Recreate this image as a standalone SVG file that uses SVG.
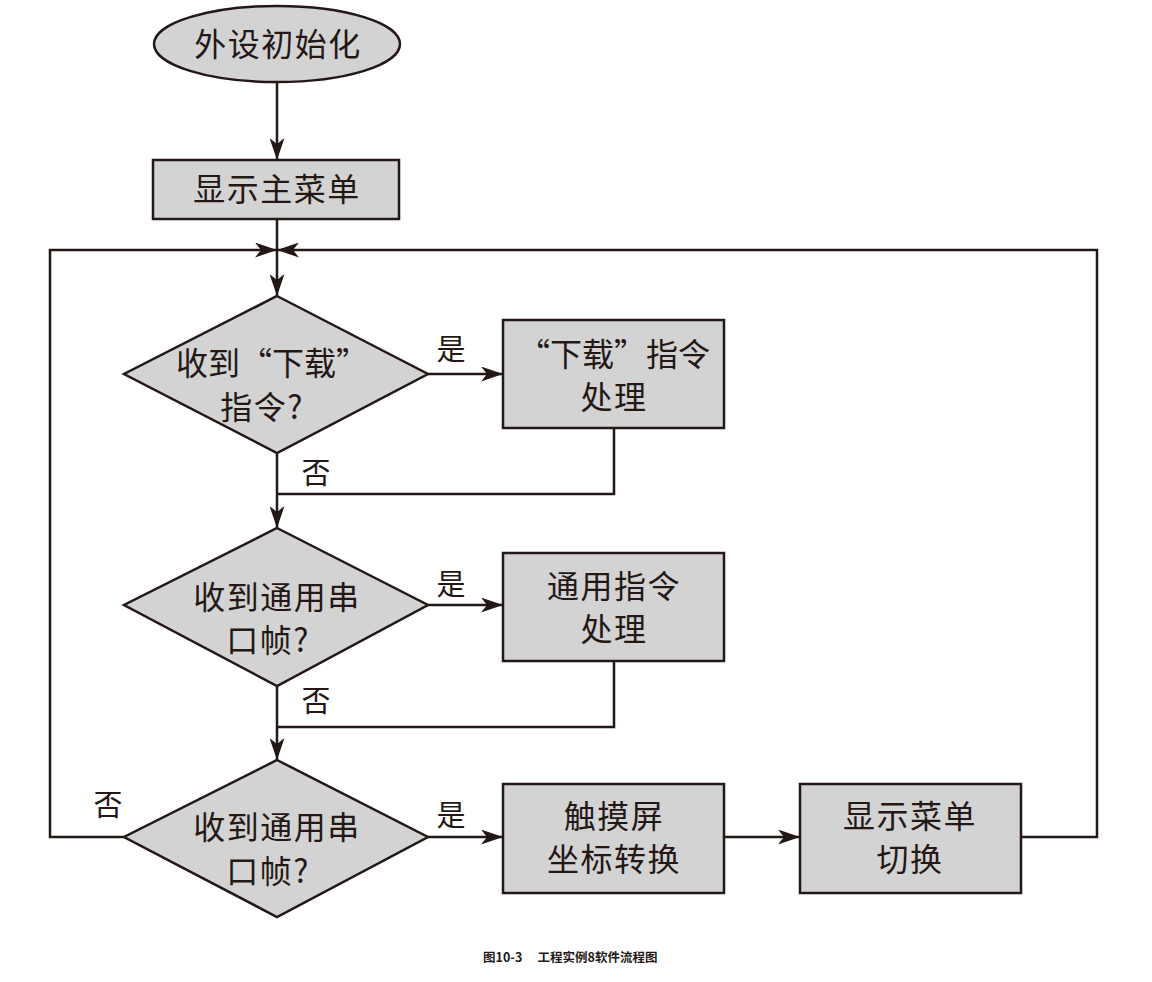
<svg xmlns="http://www.w3.org/2000/svg" width="1152" height="982" viewBox="0 0 1152 982">
<style>
.shape{fill:#d3d3d3;stroke:#231815;stroke-width:2.5}
.ln{fill:none;stroke:#231815;stroke-width:2.5}
.t{font-family:"Noto Sans CJK SC","Noto Sans",sans-serif;font-size:32px;letter-spacing:1.5px;fill:#231815;text-anchor:middle}
.lb{font-family:"Noto Sans CJK SC","Noto Sans",sans-serif;font-size:29px;fill:#231815;text-anchor:middle}
.cap{font-family:"Noto Sans CJK SC","Noto Sans",sans-serif;font-size:12.5px;font-weight:bold;fill:#231815}
</style>
<defs>
<marker id="arr" viewBox="0 0 22 15" refX="22" refY="7.5" markerWidth="22" markerHeight="15" markerUnits="userSpaceOnUse" orient="auto">
<path d="M0,0 L22,7.5 L0,15 L6,7.5 z" fill="#231815"/>
</marker>
</defs>
<rect width="1152" height="982" fill="#ffffff"/>
<g id="connectors">
<line class="ln" x1="277" y1="82" x2="277" y2="160" marker-end="url(#arr)"/>
<line class="ln" x1="277" y1="219" x2="277" y2="296" marker-end="url(#arr)"/>
<polyline class="ln" points="124,837 50,837 50,250 277,250" marker-end="url(#arr)"/>
<polyline class="ln" points="1021,837 1097,837 1097,250 277,250" marker-end="url(#arr)"/>
<line class="ln" x1="428" y1="374" x2="503" y2="374" marker-end="url(#arr)"/>
<polyline class="ln" points="614,428 614,494 277,494"/>
<line class="ln" x1="277" y1="453" x2="277" y2="528" marker-end="url(#arr)"/>
<line class="ln" x1="428" y1="605" x2="503" y2="605" marker-end="url(#arr)"/>
<polyline class="ln" points="614,661 614,727 277,727"/>
<line class="ln" x1="277" y1="686" x2="277" y2="760" marker-end="url(#arr)"/>
<line class="ln" x1="428" y1="837" x2="503" y2="837" marker-end="url(#arr)"/>
<line class="ln" x1="724" y1="837" x2="800" y2="837" marker-end="url(#arr)"/>
<text class="lb" x="451" y="360">是</text>
<text class="lb" x="316" y="484">否</text>
<text class="lb" x="451" y="595">是</text>
<text class="lb" x="316" y="712">否</text>
<text class="lb" x="451" y="826">是</text>
<text class="lb" x="108" y="816">否</text>
</g>
<g id="start">
<ellipse class="shape" cx="277" cy="44" rx="123" ry="38"/>
<text class="t" x="278" y="56">外设初始化</text>
</g>
<g id="menu">
<rect class="shape" x="153" y="160" width="246" height="59"/>
<text class="t" x="277" y="201">显示主菜单</text>
</g>
<g id="d1">
<polygon class="shape" points="277,296 428,374 277,453 124,374"/>
<text class="t" x="272" y="375" style="letter-spacing:0">收到“下载”</text>
<text class="t" x="262" y="419">指令?</text>
</g>
<g id="b1">
<rect class="shape" x="503" y="320" width="221" height="108"/>
<text class="t" x="614" y="366" style="letter-spacing:0">“下载”指令</text>
<text class="t" x="614" y="409">处理</text>
</g>
<g id="d2">
<polygon class="shape" points="277,528 428,605 277,686 124,605"/>
<text class="t" x="277" y="609">收到通用串</text>
<text class="t" x="268" y="652">口帧?</text>
</g>
<g id="b2">
<rect class="shape" x="503" y="553" width="221" height="108"/>
<text class="t" x="614" y="598">通用指令</text>
<text class="t" x="614" y="641">处理</text>
</g>
<g id="d3">
<polygon class="shape" points="277,760 428,837 277,917 124,837"/>
<text class="t" x="277" y="839">收到通用串</text>
<text class="t" x="268" y="883">口帧?</text>
</g>
<g id="b3">
<rect class="shape" x="503" y="784" width="221" height="109"/>
<text class="t" x="614" y="828">触摸屏</text>
<text class="t" x="614" y="871">坐标转换</text>
</g>
<g id="b4">
<rect class="shape" x="800" y="784" width="221" height="109"/>
<text class="t" x="910" y="828">显示菜单</text>
<text class="t" x="910" y="871">切换</text>
</g>
<text class="cap" x="483" y="962">图10-3　 工程实例8软件流程图</text>
</svg>
